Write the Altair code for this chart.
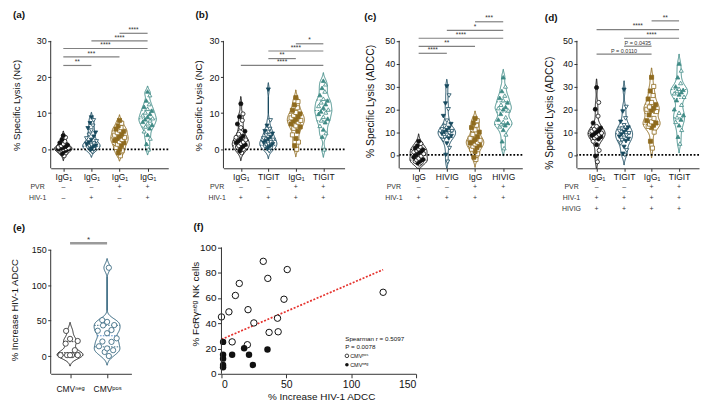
import json
import pandas as pd
import altair as alt

FONT = "Liberation Sans"

# ---------------- (a) NC lysis ----------------
a_xlabels = ["IgG₁", "IgG₁", "IgG₁", "IgG₁"]
a_pvr = ["–", "–", "+", "+"]
a_hiv = ["–", "+", "–", "+"]
a_g1 = [-1.8, -1.2, -1.0, -0.7, -0.5, -0.4, -0.2, 0.0, 0.0, 0.1, 0.2, 0.3, 0.4, 0.5, 0.6, 0.8, 1.0, 1.2, 1.5, 1.8, 2.2, 2.7, 3.3, 3.8]
a_g2 = [-0.8, -0.3, 0.0, 0.2, 0.5, 0.7, 0.9, 1.0, 1.2, 1.4, 1.6, 1.9, 2.2, 2.6, 3.0, 3.5, 4.0, 4.6, 5.2, 5.8, 6.5, 7.2, 8.0, 8.8]
a_g3 = [-1.8, -1.0, -0.4, 0.0, 0.5, 1.0, 1.4, 1.8, 2.1, 2.4, 2.7, 3.0, 3.3, 3.6, 3.9, 4.2, 4.6, 5.0, 5.3, 5.6, 6.0, 6.5, 7.2, 8.0]
a_g4 = [0.0, 1.5, 3.0, 4.0, 5.0, 5.8, 6.3, 6.8, 7.2, 7.6, 8.0, 8.3, 8.6, 9.0, 9.4, 9.8, 10.2, 10.7, 11.2, 11.8, 12.5, 13.5, 15.0, 16.0]
a_sig_from = [1, 1, 1, 2, 3]
a_sig_to = [2, 3, 4, 4, 4]
a_sig_y = [23.2, 25.6, 27.9, 30.0, 32.1]
a_sig_txt = ["**", "***", "****", "****", "****"]

# ---------------- (b) NC lysis, TIGIT ----------------
b_xlabels = ["IgG₁", "TIGIT", "IgG₁", "TIGIT"]
b_pvr = ["–", "–", "+", "+"]
b_hiv = ["+", "+", "+", "+"]
b_g1 = [-1.0, -0.5, 0.0, 0.3, 0.6, 0.8, 1.0, 1.3, 1.6, 1.8, 2.0, 2.3, 2.6, 3.0, 3.3, 3.7, 4.2, 5.0, 6.0, 7.0, 8.0, 9.0, 9.8, 12.6]
b_g2 = [-0.5, 0.0, 0.3, 0.6, 0.7, 0.9, 1.2, 1.4, 1.5, 1.8, 2.0, 2.3, 2.6, 2.8, 3.0, 3.4, 3.8, 4.3, 4.8, 5.0, 5.6, 6.5, 8.0, 16.5]
b_g3 = [0.0, 1.0, 2.0, 3.0, 4.0, 5.0, 5.8, 6.2, 6.5, 7.0, 7.5, 7.8, 8.0, 8.3, 8.7, 9.0, 9.4, 9.8, 10.2, 10.8, 11.5, 12.3, 13.2, 14.3]
b_g4 = [0.0, 3.5, 4.5, 5.5, 6.5, 7.5, 8.0, 8.5, 9.0, 9.8, 10.2, 10.5, 11.0, 11.5, 12.0, 12.5, 13.0, 13.5, 14.0, 15.0, 16.0, 17.0, 18.0, 19.0]
b_sig_from = [1, 2, 2, 3]
b_sig_to = [4, 3, 4, 4]
b_sig_y = [23.2, 25.1, 27.2, 29.2]
b_sig_txt = ["****", "**", "****", "*"]

# ---------------- (c) ADCC, HIVIG ----------------
c_xlabels = ["IgG", "HIVIG", "IgG", "HIVIG"]
c_pvr = ["–", "–", "+", "+"]
c_hiv = ["+", "+", "+", "+"]
c_g1 = [-4.0, -3.5, -3.2, -3.0, -2.8, -2.5, -2.2, -2.0, -1.5, -1.0, -0.5, 0.0, 0.5, 1.0, 1.3, 1.6, 2.0, 2.3, 2.6, 3.0, 3.5, 4.0, 5.0, 6.0]
c_g2 = [-3.0, 0.0, 3.0, 5.0, 6.5, 7.2, 7.8, 8.3, 8.8, 9.2, 9.6, 10.0, 10.4, 10.8, 11.2, 11.8, 12.5, 13.5, 15.0, 17.0, 20.0, 22.5, 26.0, 30.0]
c_g3 = [-2.0, -1.0, 0.5, 1.5, 2.5, 3.2, 3.8, 4.3, 4.8, 5.2, 5.6, 6.0, 6.4, 6.8, 7.3, 8.0, 9.0, 10.0, 11.0, 12.0, 13.0, 14.0, 15.0, 16.0]
c_g4 = [3.0, 6.0, 9.0, 11.0, 12.5, 13.0, 13.5, 14.0, 14.5, 15.5, 16.5, 18.0, 19.5, 20.0, 20.5, 21.0, 22.0, 23.0, 24.0, 25.0, 26.0, 28.0, 30.0, 34.0]
c_sig_from = [1, 1, 1, 2, 3]
c_sig_to = [2, 3, 4, 4, 4]
c_sig_y = [44.5, 47.5, 51.1, 54.5, 58.3]
c_sig_txt = ["****", "**", "****", "*", "***"]

# ---------------- (d) ADCC, TIGIT ----------------
d_xlabels = ["IgG₁", "TIGIT", "IgG₁", "TIGIT"]
d_pvr = ["–", "–", "+", "+"]
d_hiv = ["+", "+", "+", "+"]
d_hivig = ["+", "+", "+", "+"]
d_g1 = [-3.0, -0.5, 2.0, 4.5, 6.0, 7.0, 7.5, 8.0, 8.2, 8.5, 9.0, 9.3, 9.6, 10.0, 10.4, 10.8, 11.3, 11.8, 12.5, 14.0, 17.0, 20.0, 23.0, 29.5]
d_g2 = [0.0, 0.5, 2.0, 3.5, 5.0, 6.0, 6.5, 7.0, 7.5, 8.0, 8.5, 9.0, 9.5, 10.0, 10.5, 11.0, 11.5, 12.0, 13.0, 14.5, 16.0, 19.0, 21.0, 28.5]
d_g3 = [3.0, 6.0, 10.0, 12.0, 12.5, 13.0, 13.5, 14.0, 14.5, 15.0, 16.0, 17.5, 19.0, 19.5, 20.0, 20.5, 21.0, 22.0, 23.0, 24.5, 26.0, 28.0, 30.0, 34.0]
d_g4 = [5.0, 8.0, 11.0, 13.0, 14.5, 15.5, 16.5, 17.5, 18.5, 20.0, 22.0, 24.0, 25.5, 26.5, 27.0, 27.5, 28.0, 28.5, 29.0, 30.0, 31.5, 34.0, 37.0, 40.0]
d_sig_from = [1, 2, 2, 1, 3]
d_sig_to = [3, 3, 4, 4, 4]
d_sig_y = [44.1, 47.6, 51.1, 54.9, 58.7]
d_sig_txt = ["P = 0.0110", "P = 0.0435", "****", "****", "**"]

# ---------------- (e)/(f) CMV ----------------
e_xlabels = ["CMVⁿᵉᵍ", "CMVᵖᵒˢ"]
f_pos_x = [0.0, 5.75, 10.75, 13.75, 8.25, 20.0, 20.5, 25.0, 32.25, 35.75, 36.75, 43.25, 43.75, 48.25, 50.75, 124.75]
f_pos_y = [45.0, 49.0, 62.0, 71.5, 25.25, 23.0, 50.75, 40.25, 89.0, 75.5, 32.75, 44.0, 33.25, 59.0, 82.5, 64.5]
f_neg_x = [1.25, 1.25, 1.25, 1.25, 1.25, 8.25, 17.5, 21.25, 24.25, 35.5]
f_neg_y = [25.25, 15.0, 12.0, 7.0, 5.25, 15.0, 20.25, 15.0, 7.0, 19.25]
e_sig_from = [1]
e_sig_to = [2]
e_sig_y = [159.4]
e_sig_txt = ["*"]

# ---------------- shared styling scales ----------------
SKEYS = ["c1", "c2", "c3", "c4", "e1", "e2", "m"]
SCOLS = ["#111111", "#17495e", "#8f6b1f", "#3e8a85", "#262626", "#2b5f78", "#3b7dc4"]
SHAPES = ["circle", "triangle-down", "square", "triangle-up", "circle", "circle", "circle"]
FKEYS = [k + s for k in SKEYS for s in ("f", "o")]
FCOLS = [c for col in SCOLS for c in (col, "white")]
SC_STROKE = alt.Scale(domain=SKEYS, range=SCOLS)
SC_SHAPE = alt.Scale(domain=SKEYS, range=SHAPES)
SC_FILL = alt.Scale(domain=FKEYS, range=FCOLS)
ROW_OFF = [18.5, 29.5, 40.9]


def long_df(groups):
    rows = []
    for i, g in enumerate(groups, start=1):
        for v in sorted(g):
            rows.append({"cat": i, "val": float(v)})
    return pd.DataFrame(rows)


def text_at(txt, x, y, **kw):
    return alt.Chart(pd.DataFrame({"t": [txt]})).mark_text(font=FONT, **kw).encode(
        x=alt.value(x), y=alt.value(y), text="t:N")


def violin_panel(groups, prefix, W, H, xdom, ydom, yticks, ytop, xlabels, xlab_fs, xtick, xpad,
                 bw, hw, jit, psize, open_only, sig, sig_color, sig_width, rows, rowdx,
                 letter, letter_xy, ytitle, ytitle_xy, ytitle_fs, zero_line=True, ytick_fs=9,
                 star_fs=6.6):
    n = len(groups)
    df = long_df(groups)
    xs = alt.Scale(domain=xdom, nice=False, zero=False)
    ys = alt.Scale(domain=ydom, nice=False, zero=False)
    xax = alt.Axis(values=list(range(1, n + 1)),
                   labelExpr=json.dumps(xlabels, ensure_ascii=False) + "[round(datum.value) - 1]",
                   title=None, grid=False, domainColor="#333", domainWidth=1, tickColor="#333",
                   tickSize=xtick, labelPadding=xpad, labelFontSize=xlab_fs, labelFont=FONT,
                   labelColor="#111", labelAngle=0)
    yax = alt.Axis(values=yticks, domain=False, title=None, grid=False, tickColor="#333", tickSize=3,
                   labelPadding=1.5, labelFontSize=ytick_fs, labelFont=FONT, labelColor="#111")

    def X(f):
        return alt.X(f"{f}:Q", scale=xs, axis=xax)

    def Y(f):
        return alt.Y(f"{f}:Q", scale=ys, axis=yax)

    base = alt.Chart(df).transform_calculate(ck=f"'{prefix}' + datum.cat")
    dens = (base.transform_joinaggregate(q1="q1(val)", q2="median(val)", q3="q3(val)", groupby=["cat"])
            .transform_density("val", groupby=["cat", "ck", "q1", "q2", "q3"], as_=["val", "dens"],
                               extent=[ydom[0], ydom[1]], steps=320, bandwidth=bw)
            .transform_joinaggregate(maxd="max(dens)", groupby=["cat"])
            .transform_calculate(rel="datum.dens / datum.maxd")
            .transform_filter("datum.rel > 0.015")
            .transform_calculate(xl=f"datum.cat - datum.rel * {hw}", xr=f"datum.cat + datum.rel * {hw}"))
    area = dens.mark_area(orient="horizontal", fill="white", fillOpacity=1, strokeWidth=1).encode(
        y=Y("val"), x=X("xl"), x2=alt.X2("xr:Q"),
        stroke=alt.Stroke("ck:N", scale=SC_STROKE, legend=None))
    med = "'m'" if prefix == "e" else "datum.ck"
    quart = (dens.transform_fold(["q1", "q2", "q3"], as_=["qk", "qv"])
             .transform_calculate(dd="abs(datum.val - datum.qv)")
             .transform_joinaggregate(mind="min(dd)", groupby=["cat", "qk"])
             .transform_filter("datum.dd == datum.mind")
             .transform_calculate(qc=f"(datum.qk == 'q2' && datum.cat == 2) ? {med} : datum.ck")
             .mark_rule(strokeDash=[1.5, 1.3], strokeWidth=0.9)
             .encode(y=Y("qv"), x=X("xl"), x2=alt.X2("xr:Q"),
                     stroke=alt.Stroke("qc:N", scale=SC_STROKE, legend=None)))
    fexpr = "datum.ck + 'o'" if open_only else "datum.ck + (datum.rank % 2 == 0 ? 'f' : 'o')"
    pts = (base.transform_window(rank="row_number()", groupby=["cat"], sort=[alt.SortField("val")])
           .transform_joinaggregate(nn="count()", groupby=["cat"])
           .transform_calculate(
               jx=f"datum.cat + (((datum.rank * 3) % 5) - 2) * {jit} * (0.3 + 0.7 * sin(PI * (datum.rank - 0.5) / datum.nn))",
               fk=fexpr)
           .mark_point(size=psize, strokeWidth=0.8, opacity=1, filled=False)
           .encode(x=X("jx"), y=Y("val"),
                   shape=alt.Shape("ck:N", scale=SC_SHAPE, legend=None),
                   stroke=alt.Stroke("ck:N", scale=SC_STROKE, legend=None),
                   fill=alt.Fill("fk:N", scale=SC_FILL, legend=None)))

    sdf = pd.DataFrame({"x1": sig[0], "x2": sig[1], "val": sig[2], "txt": sig[3]})
    srule = alt.Chart(sdf).mark_rule(color=sig_color, strokeWidth=sig_width).encode(
        x=X("x1"), x2=alt.X2("x2:Q"), y=Y("val"))
    stext = (alt.Chart(sdf)
             .transform_calculate(xm="(datum.x1 + datum.x2) / 2",
                                  fs=f"indexof(datum.txt, 'P') >= 0 ? 5.5 : {star_fs}")
             .mark_text(font=FONT, color="#333", baseline="alphabetic", dy=-1.3)
             .encode(x=X("xm"), y=Y("val"), text="txt:N", size=alt.Size("fs:Q", scale=None, legend=None)))
    axl = alt.Chart(pd.DataFrame({"val": [ydom[0]], "v2": [ytop]})).mark_rule(
        color="#333", strokeWidth=1).encode(x=alt.value(0), y=Y("val"), y2=alt.Y2("v2:Q"))

    layers = [area, quart]
    if zero_line:
        zero = alt.Chart(pd.DataFrame({"val": [0.0]})).mark_rule(
            color="black", strokeWidth=1.8, strokeDash=[1.8, 1.8]).encode(y=Y("val"))
        layers.append(zero)
    layers += [pts, srule, stext, axl]

    for k, (name, signs) in enumerate(rows):
        off = H + ROW_OFF[k]
        rdf = pd.DataFrame({"cat": list(range(1, n + 1)), "s": signs})
        layers.append(alt.Chart(rdf).mark_text(font=FONT, fontSize=7, color="#333").encode(
            x=X("cat"), y=alt.value(off), text="s:N"))
        layers.append(text_at(name, rowdx, off, fontSize=7, color="#333"))

    layers.append(text_at(letter, letter_xy[0], letter_xy[1], fontSize=10, fontWeight="bold",
                          align="left", baseline="middle", color="#111"))
    layers.append(text_at(ytitle, ytitle_xy[0], ytitle_xy[1], fontSize=ytitle_fs, angle=270,
                          align="center", baseline="middle", color="#111"))
    return alt.layer(*layers).properties(width=W, height=H)


H1 = 154
H2 = 140

pa = violin_panel([a_g1, a_g2, a_g3, a_g4], "c", 118.4, H1, [0.551, 4.735], [-5.25, 37.06],
                  [0, 10, 20, 30], 30, a_xlabels, 8.5, 3, 1, 0.7, 0.31, 0.09, 17, False,
                  (a_sig_from, a_sig_to, a_sig_y, a_sig_txt), "#808080", 1.2,
                  [("PVR", a_pvr), ("HIV-1", a_hiv)], -13.2,
                  "(a)", (-37.9, 0), "% Specific Lysis (NC)", (-33.8, 90.7), 9.6)
pb = violin_panel([b_g1, b_g2, b_g3, b_g4], "c", 122, H1, [0.368, 4.772], [-5.25, 37.06],
                  [0, 10, 20, 30], 30, b_xlabels, 8.5, 3, 1, 1.0, 0.31, 0.09, 17, False,
                  (b_sig_from, b_sig_to, b_sig_y, b_sig_txt), "#808080", 1.2,
                  [("PVR", b_pvr), ("HIV-1", b_hiv)], -6.4,
                  "(b)", (-28.1, 0), "% Specific Lysis (NC)", (-24.8, 91.2), 9.6)
pc = violin_panel([c_g1, c_g2, c_g3, c_g4], "c", 124, H1, [0.310, 4.676], [-5.83, 61.1],
                  [0, 10, 20, 30, 40, 50], 50, c_xlabels, 8.5, 3, 1, 1.6, 0.31, 0.09, 17, False,
                  (c_sig_from, c_sig_to, c_sig_y, c_sig_txt), "#808080", 1.2,
                  [("PVR", c_pvr), ("HIV-1", c_hiv)], -5.4,
                  "(c)", (-35.2, 2), "% Specific Lysis (ADCC)", (-27.9, 86.7), 10.4)
pd_ = violin_panel([d_g1, d_g2, d_g3, d_g4], "c", 123, H1, [0.285, 4.725], [-5.83, 61.1],
                   [0, 10, 20, 30, 40, 50], 50, d_xlabels, 8.5, 3, 1, 2.0, 0.31, 0.09, 17, False,
                   (d_sig_from, d_sig_to, d_sig_y, d_sig_txt), "#808080", 1.2,
                   [("PVR", d_pvr), ("HIV-1", d_hiv), ("HIVIG", d_hivig)], -5.4,
                   "(d)", (-32.3, 3), "% Specific Lysis (ADCC)", (-26.6, 98.5), 10.4)

pe = violin_panel([f_neg_x, f_pos_x], "e", 81.3, H2, [0.477, 2.657], [-25.1, 171.3],
                  [0, 50, 100, 150], 150, e_xlabels, 8.5, 4, 7, 5.5, 0.35, 0.13, 28, True,
                  (e_sig_from, e_sig_to, e_sig_y, e_sig_txt), "#9a9a9a", 2.5, [], 0,
                  "(e)", (-37.9, -6.65), "% Increase HIV-1 ADCC", (-36.3, 76), 9.5, zero_line=False,
                  star_fs=8)

# ---------------- (f) scatter ----------------
FW = 195.8
fxs = alt.Scale(domain=[0, 150], nice=False, zero=False)
fys = alt.Scale(domain=[0, 110], nice=False, zero=False)
fxax = alt.Axis(values=[0, 50, 100, 150], title=None, grid=False, tickSize=4, labelPadding=1.5,
                labelFontSize=10.5, labelFont=FONT, labelColor="#111", domainColor="#333", tickColor="#333")
fyax = alt.Axis(values=[0, 20, 40, 60, 80, 100], domain=False, title=None, grid=False, tickSize=4,
                labelPadding=1.5, labelFontSize=10, labelFont=FONT, labelColor="#111", tickColor="#333")


def FX(f):
    return alt.X(f"{f}:Q", scale=fxs, axis=fxax)


def FY(f):
    return alt.Y(f"{f}:Q", scale=fys, axis=fyax)


pos_df = pd.DataFrame({"x": f_pos_x, "y": f_pos_y})
neg_df = pd.DataFrame({"x": f_neg_x, "y": f_neg_y})
all_df = pd.concat([pos_df, neg_df], ignore_index=True)

freg = alt.Chart(all_df).transform_regression("x", "y").mark_line(
    color="#e5322d", strokeWidth=1.7, strokeDash=[2, 1.6]).encode(x=FX("x"), y=FY("y"))
fpos = alt.Chart(pos_df).mark_point(shape="circle", size=42, stroke="#111", fill="white",
                                    strokeWidth=1, opacity=1, filled=False).encode(x=FX("x"), y=FY("y"))
fneg = alt.Chart(neg_df).mark_point(shape="circle", size=42, color="#111", opacity=1,
                                    filled=True).encode(x=FX("x"), y=FY("y"))
fax = alt.Chart(pd.DataFrame({"y": [0.0], "y2": [100.0]})).mark_rule(color="#333", strokeWidth=1).encode(
    x=alt.value(0), y=FY("y"), y2=alt.Y2("y2:Q"))
fstat = alt.Chart(pd.DataFrame({"x": [95.5, 95.5], "y": [27.8, 20.9],
                                "t": ["Spearman r = 0.5097", "P = 0.0078"]})).mark_text(
    font=FONT, fontSize=6.3, align="left", baseline="middle", color="#111").encode(
    x=FX("x"), y=FY("y"), text="t:N")
fleg_o = alt.Chart(pd.DataFrame({"x": [96.8], "y": [14.2]})).mark_point(
    shape="circle", size=13, stroke="#111", fill="white", strokeWidth=0.8, opacity=1, filled=False).encode(
    x=FX("x"), y=FY("y"))
fleg_f = alt.Chart(pd.DataFrame({"x": [96.8], "y": [7.2]})).mark_point(
    shape="circle", size=13, color="#111", opacity=1, filled=True).encode(x=FX("x"), y=FY("y"))
fleg_t = alt.Chart(pd.DataFrame({"x": [99.3, 99.3], "y": [14.2, 7.2], "t": ["CMVᵖᵒˢ", "CMVⁿᵉᵍ"]})).mark_text(
    font=FONT, fontSize=5.5, align="left", baseline="middle", color="#111").encode(
    x=FX("x"), y=FY("y"), text="t:N")

pf = alt.layer(
    freg, fpos, fneg, fax, fstat, fleg_o, fleg_f, fleg_t,
    text_at("(f)", -28.1, -7.9, fontSize=10, fontWeight="bold", align="left", baseline="middle", color="#111"),
    text_at("% FcRγⁿᵉᵍ NK cells", -25.5, 69.8, fontSize=10, angle=270, align="center",
            baseline="middle", color="#111"),
    text_at("% Increase HIV-1 ADCC", FW / 2 + 3, H2 + 23.75, fontSize=10, align="center",
            baseline="middle", color="#111"),
).properties(width=FW, height=H2)

top = alt.hconcat(pa, pb, pc, pd_, spacing=55, bounds="flush")
bottom = alt.hconcat(pe, pf, spacing=90, bounds="flush")
chart = (alt.vconcat(top, bottom, spacing=10)
         .properties(padding={"left": 1, "top": 1, "right": 1, "bottom": 1})
         .configure_view(stroke=None)
         .configure_axis(labelFont=FONT, titleFont=FONT))

chart.save("out.html", embed_options={"renderer": "svg", "actions": False})
